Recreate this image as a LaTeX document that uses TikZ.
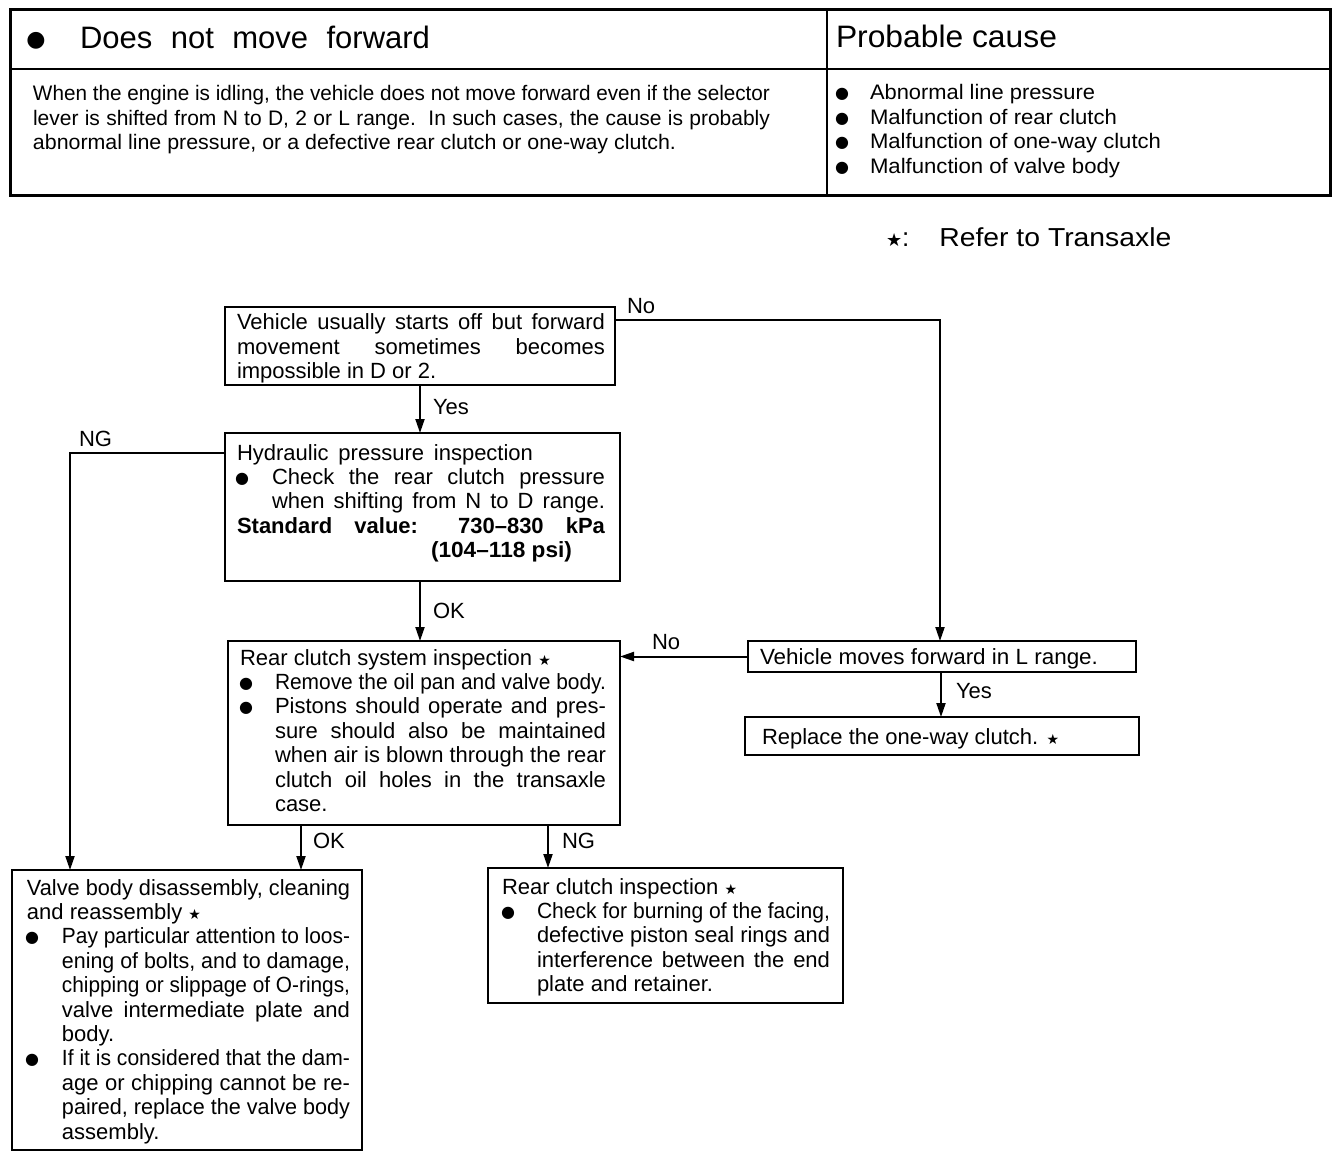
\documentclass[tikz,border=0pt]{standalone}
\usepackage{graphicx}
\usepackage{fontspec}
\setmainfont{Liberation Sans}
\newfontfamily\dejavu{DejaVu Sans}
\usetikzlibrary{arrows.meta,calc}
\newsavebox\fitbox
\newcommand\fitto[2]{\sbox\fitbox{#2}\ifdim\wd\fitbox>#1\relax\resizebox{#1}{\height}{\usebox\fitbox}\else\makebox[#1][s]{#2}\fi}
\newcommand\scaleto[2]{\resizebox{#1}{\height}{#2}}
\newcommand\bul{\raisebox{1pt}{\dejavu\fontsize{16}{16}\selectfont ●}}
\newcommand\bigbul{{\dejavu\fontsize{22}{22}\selectfont ●}}
\newcommand\st[1][14]{{\dejavu\fontsize{#1}{#1}\selectfont ★}}
\newcommand\Jl[3]{\hbox{\kern#1pt\fitto{#2pt}{#3}}}
\newcommand\Sl[3]{\hbox{\kern#1pt\scaleto{#2pt}{#3}}}
\newcommand\Nl[2]{\hbox{\kern#1pt #2}}
\newcommand\Bl[4]{\hbox{\kern#1pt\makebox[0pt]{\bul}\kern\dimexpr#2pt-#1pt\relax\fitto{#3pt}{#4}}}
\newcommand\Bs[4]{\hbox{\kern#1pt\makebox[0pt]{\bul}\kern\dimexpr#2pt-#1pt\relax\scaleto{#3pt}{#4}}}
\newcommand\Lines[1]{\vtop{\baselineskip=24.4pt\lineskiplimit=-1000pt\lineskip=0pt #1}}
\begin{document}
\begin{tikzpicture}[x=1pt,y=-1pt,
  box/.style={draw, line width=2.4pt, inner sep=0pt, outer sep=0pt, anchor=north west},
  arr/.style={line width=2pt, -{Triangle[width=9pt,length=14pt]}},
  txt/.style={inner sep=0pt, outer sep=0pt, anchor=base west, font=\fontsize{22}{24.4}\selectfont},
  stxt/.style={txt, font=\fontsize{21}{24.4}\selectfont},
  lab/.style={inner sep=0pt, outer sep=0pt, anchor=base west, font=\fontsize{22}{24}\selectfont}]
\useasboundingbox (0,0) rectangle (1344,1158);
\fill[white] (0,0) rectangle (1344,1158);
% ---- header table
\node[box, line width=3pt, minimum width=1320pt, minimum height=186pt] (tbl) at (10,10) {};
\coordinate (hdiv) at (0,69);
\coordinate (vdiv) at (827,0);
\draw[line width=2pt] (tbl.west |- hdiv) -- (tbl.east |- hdiv);
\draw[line width=2pt] (tbl.north -| vdiv) -- (tbl.south -| vdiv);
\node[txt, anchor=base] (hbul) at (36,47) {\bigbul};
\node[txt, font=\fontsize{31}{32}\selectfont] (htitle) at (80,49) {\fitto{350pt}{Does\ not\ move\ forward}};
\node[txt, font=\fontsize{31}{32}\selectfont] (hcause) at (836,48) {\scaleto{221pt}{Probable cause}};
\node[stxt] (desc) at (33,101) {\Lines{%
  \Jl{0}{737}{When the engine is idling, the vehicle does not move forward even if the selector}%
  \Jl{0}{737}{lever is shifted from N to D, 2 or L range.\ \ In such cases, the cause is probably}%
  \Sl{0}{643}{abnormal line pressure, or a defective rear clutch or one-way clutch.}}};
\node[stxt] (causes) at (835,100) {\Lines{%
  \Bs{7}{35}{225}{Abnormal line pressure}%
  \Bs{7}{35}{247}{Malfunction of rear clutch}%
  \Bs{7}{35}{291}{Malfunction of one-way clutch}%
  \Bs{7}{35}{250}{Malfunction of valve body}}};
\node[txt, font=\fontsize{26}{26}\selectfont] (ref) at (886,247) {\st[18]:\hspace{30pt}\scaleto{232pt}{Refer\ to\ Transaxle}};
% ---- boxes
\node[box, minimum width=390pt, minimum height=78pt] (A) at (225,307) {};
\node[txt] (At) at (237,330) {\Lines{%
  \Jl{0}{368}{Vehicle usually starts off but forward}%
  \Jl{0}{368}{movement sometimes becomes}%
  \Nl{0}{impossible in D or 2.}}};
\node[box, minimum width=395pt, minimum height=148pt] (B) at (225,433) {};
\node[txt] (Bt) at (237,460) {\Lines{%
  \Jl{0}{296}{Hydraulic pressure inspection}%
  \Bl{5}{35}{333}{Check the rear clutch pressure}%
  \Jl{35}{333}{when shifting from N to D range.}%
  \Jl{0}{368}{\bfseries Standard value: 730–830 kPa}%
  \Sl{194}{141}{\bfseries (104–118 psi)}}};
\node[box, minimum width=392pt, minimum height=184pt] (C) at (228,641) {};
\node[txt] (Ct) at (240,665) {\Lines{%
  \Nl{0}{Rear clutch system inspection \st}%
  \Bl{6}{35}{331}{Remove the oil pan and valve body.}%
  \Bl{6}{35}{331}{Pistons should operate and pres-}%
  \Jl{35}{331}{sure should also be maintained}%
  \Jl{35}{331}{when air is blown through the rear}%
  \Jl{35}{331}{clutch oil holes in the transaxle}%
  \Nl{35}{case.}}};
\node[box, minimum width=388pt, minimum height=31pt] (D) at (748,641) {};
\node[txt] (Dt) at (760,664) {\scaleto{338pt}{Vehicle moves forward in L range.}};
\node[box, minimum width=394pt, minimum height=38pt] (F) at (745,717) {};
\node[txt] (Ft) at (762,744) {Replace the one-way clutch. \st};
\node[box, minimum width=350pt, minimum height=280pt] (E) at (12,870) {};
\node[txt] (Et) at (27,895) {\Lines{%
  \Jl{0}{323}{Valve body disassembly, cleaning}%
  \Nl{0}{and reassembly \st}%
  \Bl{5}{35}{288}{Pay particular attention to loos-}%
  \Jl{35}{288}{ening of bolts, and to damage,}%
  \Jl{35}{288}{chipping or slippage of O-rings,}%
  \Jl{35}{288}{valve intermediate plate and}%
  \Nl{35}{body.}%
  \Bl{5}{35}{288}{If it is considered that the dam-}%
  \Jl{35}{288}{age or chipping cannot be re-}%
  \Jl{35}{288}{paired, replace the valve body}%
  \Nl{35}{assembly.}}};
\node[box, minimum width=355pt, minimum height=135pt] (G) at (488,868) {};
\node[txt] (Gt) at (502,894) {\Lines{%
  \Nl{0}{Rear clutch inspection \st}%
  \Bl{6}{35}{293}{Check for burning of the facing,}%
  \Jl{35}{293}{defective piston seal rings and}%
  \Jl{35}{293}{interference between the end}%
  \Nl{35}{plate and retainer.}}};
% ---- connectors
\draw[arr] (A.south) -- (A.south |- B.north);
\node[lab] (lyes1) at (433,414) {Yes};
\coordinate (nod) at (940,320);
\draw[arr] (A.east |- nod) -- (nod) -- (nod |- D.north);
\node[lab] (lno1) at (627,314) {No};
\coordinate (nge) at (70,453);
\draw[arr] (B.west |- nge) -- (nge) -- (nge |- E.north);
\node[lab] (lng1) at (79,446) {NG};
\coordinate (bc) at (420,0);
\draw[arr] (B.south -| bc) -- (C.north -| bc);
\node[lab] (lok1) at (433,618) {OK};
\draw[arr] (D.west) -- (D.west -| C.east);
\node[lab] (lno2) at (652,649) {No};
\coordinate (df) at (941,0);
\draw[arr] (D.south -| df) -- (F.north -| df);
\node[lab] (lyes2) at (956,698) {Yes};
\coordinate (ce) at (301,0);
\draw[arr] (C.south -| ce) -- (E.north -| ce);
\node[lab] (lok2) at (313,848) {OK};
\coordinate (cg) at (548,0);
\draw[arr] (C.south -| cg) -- (G.north -| cg);
\node[lab] (lng2) at (562,848) {NG};
\end{tikzpicture}
\end{document}
